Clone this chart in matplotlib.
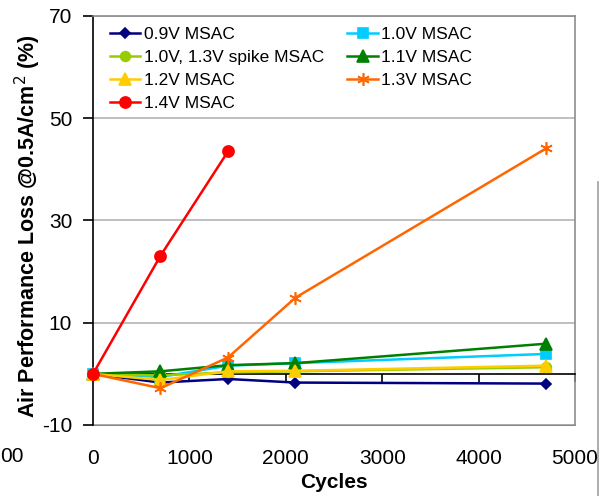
import matplotlib
matplotlib.use("Agg")
import matplotlib.pyplot as plt
from matplotlib.lines import Line2D

plt.rcParams['font.family'] = ['Liberation Sans', 'DejaVu Sans']
plt.rcParams['axes.unicode_minus'] = False

cycles = [0, 700, 1400, 2100, 4700]
cycles_14 = [0, 700, 1400]

labels = ["0.9V MSAC", "1.0V MSAC", "1.0V, 1.3V spike MSAC", "1.1V MSAC",
          "1.2V MSAC", "1.3V MSAC", "1.4V MSAC"]
v09 = [0, -1.7, -1.0, -1.7, -1.9]
v10 = [0, -0.6, 1.6, 2.1, 3.9]
v10s = [0, -0.3, 0.3, 0.5, 1.3]
v11 = [0, 0.5, 1.7, 2.1, 5.9]
v12 = [0, -1.2, 0.5, 0.6, 1.6]
v13 = [0, -2.8, 3.2, 14.9, 44.1]
v14 = [0, 23.1, 43.5]

xticks = [0, 1000, 2000, 3000, 4000, 5000]
yticks = [-10, 10, 30, 50, 70]

fig = plt.figure(figsize=(6.0, 4.96), dpi=100)
L, R, T, B = 93, 575, 16, 425
ax = fig.add_axes([L/600, (496-B)/496, (R-L)/600, (B-T)/496])

series = [
    (cycles, v09, labels[0], '#000080', 'D', 5.5),
    (cycles, v10, labels[1], '#00CCFF', 's', 7),
    (cycles, v10s, labels[2], '#99CC00', 'o', 7),
    (cycles, v11, labels[3], '#008000', '^', 8),
    (cycles, v12, labels[4], '#FFCC00', '^', 8),
    (cycles, v13, labels[5], '#FF6600', (6, 2, 0), 9),
    (cycles_14, v14, labels[6], '#FF0000', 'o', 8),
]
handles = {}
for x, y, lab, c, m, s in series:
    h, = ax.plot(x, y, color=c, marker=m, markersize=s, lw=1.8,
                 markeredgecolor=c, markerfacecolor=c, markeredgewidth=1.2,
                 label=lab, clip_on=False, zorder=3)
    handles[lab] = h

ax.set_xlim(0, 5000)
ax.set_ylim(-10, 70)
ax.set_yticks(yticks)
ax.set_xticks(xticks)
ax.grid(axis='y', color='#b4b4b4', lw=1.2)
ax.set_axisbelow(True)

for sp in ['top', 'right']:
    ax.spines[sp].set_color('#8c8c8c')
    ax.spines[sp].set_linewidth(1.2)
ax.spines['left'].set_color('black')
ax.spines['left'].set_linewidth(1.2)
ax.spines['bottom'].set_position(('data', 0))
ax.spines['bottom'].set_color('black')
ax.spines['bottom'].set_linewidth(1.2)
ax.tick_params(axis='x', direction='out', length=6, width=1.2, labelbottom=False)
ax.tick_params(axis='y', direction='out', length=7, width=1.2, labelsize=15, pad=8)

sec = ax.secondary_xaxis(0)
sec.set_xticks(xticks)
sec.tick_params(length=0, labelsize=15, pad=17)
sec.spines['bottom'].set_color('#6e6e6e')
sec.spines['bottom'].set_linewidth(1.2)

ax.set_ylabel("Air Performance Loss @0.5A/cm$^2$ (%)", fontsize=15.5, fontweight='bold')
ax.yaxis.set_label_coords(-0.104, 0.485)
fig.text((L + R) / 2 / 600, 1 - 482/496, "Cycles", fontsize=15, fontweight='bold',
         ha='center', va='center')

order = [labels[0], labels[2], labels[4], labels[6], labels[1], labels[3], labels[5]]
ax.legend([handles[k] for k in order], order, ncol=2, loc='upper left',
          bbox_to_anchor=(0.035, 0.974), frameon=False, fontsize=12.5,
          handlelength=1.75, handletextpad=0.2, columnspacing=1.35,
          labelspacing=0.45, borderpad=0, borderaxespad=0)

fig.text(0.0, 1 - 457/496, "00", fontsize=15, ha='left', va='center')
fig.add_artist(Line2D([598/600, 598/600], [0, 1 - 182/496], color='#a0a0a0', lw=1.2,
                      transform=fig.transFigure))

fig.savefig("out.png", dpi=100)
